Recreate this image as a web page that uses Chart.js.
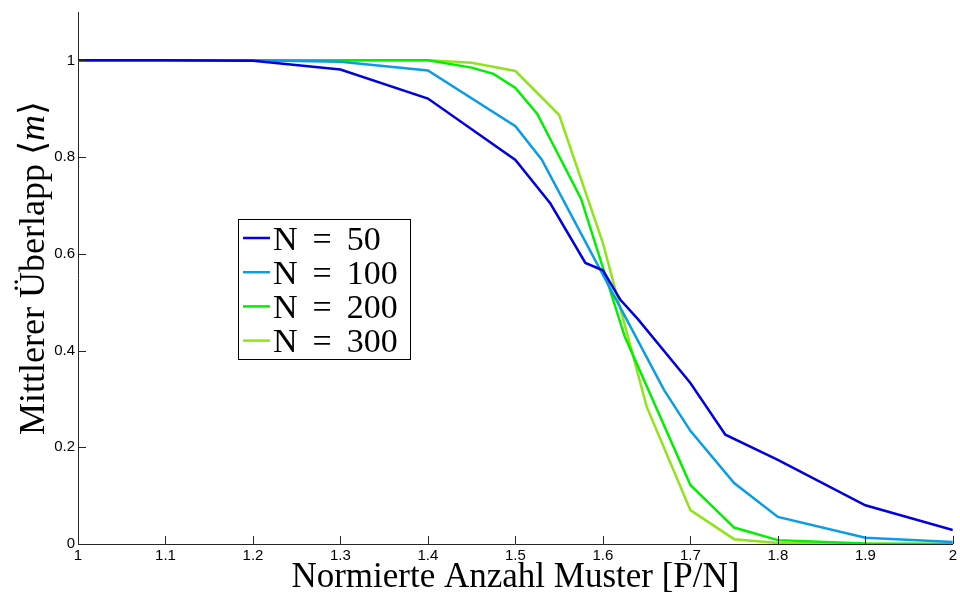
<!DOCTYPE html>
<html lang="de">
<head>
    <meta charset="UTF-8">
    <title>Mittlerer Überlapp</title>
    <script src="https://cdn.jsdelivr.net/npm/chart.js"></script>
    <style>
        body { margin: 0; background: #fff; }
        #wrap { width: 960px; height: 595px; }
    </style>
</head>
<body>
    <div id="wrap"><canvas id="myChart"></canvas></div>

    <script>
        // Werte: x = P/N, y = <m>
        const labels = ['N = 50', 'N = 100', 'N = 200', 'N = 300'];
        const colors = ['#0000e0', '#0a9ce6', '#00f000', '#90e41a'];

        const x50 = [1.0, 1.1, 1.2, 1.3, 1.4, 1.5, 1.54, 1.58, 1.6, 1.62, 1.64, 1.7, 1.74, 1.8, 1.9, 2.0];
        const y50 = [1.0, 1.0, 0.999, 0.981, 0.921, 0.794, 0.704, 0.581, 0.566, 0.505, 0.465, 0.333, 0.226, 0.174, 0.080, 0.029];

        const x100 = [1.0, 1.1, 1.2, 1.3, 1.4, 1.5, 1.53, 1.67, 1.7, 1.75, 1.8, 1.9, 2.0];
        const y100 = [1.0, 1.0, 1.0, 0.997, 0.979, 0.864, 0.795, 0.318, 0.234, 0.126, 0.056, 0.013, 0.004];

        const x200 = [1.0, 1.1, 1.2, 1.3, 1.4, 1.45, 1.475, 1.5, 1.525, 1.575, 1.625, 1.7, 1.75, 1.8, 1.9, 2.0];
        const y200 = [1.0, 1.0, 1.0, 1.0, 1.0, 0.985, 0.972, 0.943, 0.889, 0.714, 0.429, 0.122, 0.034, 0.008, 0.001, 0.0];

        const x300 = [1.0, 1.1, 1.2, 1.3, 1.4, 1.45, 1.5, 1.55, 1.6, 1.65, 1.7, 1.75, 1.8, 1.9, 2.0];
        const y300 = [1.0, 1.0, 1.0, 1.0, 1.0, 0.995, 0.978, 0.887, 0.622, 0.284, 0.070, 0.010, 0.002, 0.0, 0.0];

        const xTicks = [1.0, 1.1, 1.2, 1.3, 1.4, 1.5, 1.6, 1.7, 1.8, 1.9, 2.0];
        const yTicks = [0, 0.2, 0.4, 0.6, 0.8, 1.0];

        const xTitle = 'Normierte Anzahl Muster [P/N]';
        const yTitle = 'Mittlerer Überlapp';

        const serif = "'Liberation Serif', 'DejaVu Serif', serif";
        const sans = "'Liberation Sans', Arial, sans-serif";
        const axisColor = '#262626';

        function points(xs, ys) {
            return xs.map((v, i) => ({ x: v, y: ys[i] }));
        }

        // Ticks nach innen, Legende im Plot und y-Titel mit kursivem m
        const overlay = {
            id: 'overlay',
            afterDraw(chart) {
                const ctx = chart.ctx;
                const xs = chart.scales.x, ys = chart.scales.y;
                ctx.save();
                ctx.strokeStyle = axisColor;
                ctx.lineWidth = 1;
                ctx.beginPath();
                xs.ticks.forEach(t => {
                    const px = Math.round(xs.getPixelForValue(t.value)) + 0.5;
                    ctx.moveTo(px, ys.bottom);
                    ctx.lineTo(px, ys.bottom - 8);
                });
                ys.ticks.forEach(t => {
                    const py = Math.round(ys.getPixelForValue(t.value)) + 0.5;
                    ctx.moveTo(xs.left, py);
                    ctx.lineTo(xs.left + 8, py);
                });
                ctx.stroke();

                // Legende
                const bx = 238.5, by = 219.5, bw = 172, bh = 140;
                ctx.fillStyle = '#fff';
                ctx.fillRect(bx, by, bw, bh);
                ctx.strokeStyle = '#000';
                ctx.strokeRect(bx, by, bw, bh);
                ctx.font = '34px ' + serif;
                ctx.textBaseline = 'alphabetic';
                chart.data.datasets.forEach((ds, i) => {
                    const ly = 238 + i * 34.2;
                    ctx.strokeStyle = ds.borderColor;
                    ctx.lineWidth = 2.5;
                    ctx.beginPath();
                    ctx.moveTo(243, ly);
                    ctx.lineTo(270, ly);
                    ctx.stroke();
                    ctx.fillStyle = '#000';
                    let tx = 273;
                    ds.label.split(' ').forEach(w => {
                        ctx.fillText(w, tx, ly + 11.5);
                        tx += ctx.measureText(w).width + 15;
                    });
                });

                // y-Achsentitel
                ctx.translate(35, 268);
                ctx.rotate(-Math.PI / 2);
                ctx.fillStyle = '#000';
                ctx.textBaseline = 'middle';
                const normal = '36px ' + serif;
                const italic = 'italic 36px ' + serif;
                const parts = [[yTitle + ' ', normal], ['\u27E8', normal], ['m', italic], ['\u27E9', normal]];
                let total = 0;
                parts.forEach(p => { ctx.font = p[1]; total += ctx.measureText(p[0]).width; });
                let cx = -total / 2;
                parts.forEach(p => {
                    ctx.font = p[1];
                    ctx.fillText(p[0], cx, 0);
                    cx += ctx.measureText(p[0]).width;
                });
                ctx.restore();
            }
        };

        const ctx = document.getElementById('myChart').getContext('2d');
        new Chart(ctx, {
            type: 'line',
            data: {
                datasets: [
                    { label: labels[0], data: points(x50, y50), borderColor: colors[0] },
                    { label: labels[1], data: points(x100, y100), borderColor: colors[1] },
                    { label: labels[2], data: points(x200, y200), borderColor: colors[2] },
                    { label: labels[3], data: points(x300, y300), borderColor: colors[3] }
                ]
            },
            options: {
                responsive: true,
                maintainAspectRatio: false,
                animation: false,
                layout: { padding: { top: 12, right: 7, left: 0, bottom: 0 } },
                elements: {
                    line: { borderWidth: 2.5, tension: 0, fill: false },
                    point: { radius: 0, hoverRadius: 0 }
                },
                plugins: {
                    legend: { display: false },
                    tooltip: { enabled: false }
                },
                scales: {
                    x: {
                        type: 'linear',
                        min: 1,
                        max: 2,
                        afterBuildTicks: s => { s.ticks = xTicks.map(v => ({ value: v })); },
                        afterFit: s => { s.height = 51; },
                        grid: { display: false, drawTicks: false },
                        border: { display: true, color: axisColor, width: 1 },
                        ticks: {
                            padding: 3,
                            color: '#000',
                            maxRotation: 0,
                            autoSkip: false,
                            font: { family: sans, size: 15 },
                            callback: v => String(+v.toFixed(1))
                        },
                        title: {
                            display: true,
                            text: xTitle,
                            color: '#000',
                            padding: 0,
                            font: { family: serif, size: 35, lineHeight: 1.0 }
                        }
                    },
                    y: {
                        min: 0,
                        max: 1.1,
                        afterBuildTicks: s => { s.ticks = yTicks.map(v => ({ value: v })); },
                        afterFit: s => { s.width = 78; },
                        grid: { display: false, drawTicks: false },
                        border: { display: true, color: axisColor, width: 1 },
                        ticks: {
                            padding: 3,
                            color: '#000',
                            font: { family: sans, size: 15 },
                            callback: v => String(+v.toFixed(1))
                        }
                    }
                }
            },
            plugins: [overlay]
        });
    </script>
</body>
</html>
